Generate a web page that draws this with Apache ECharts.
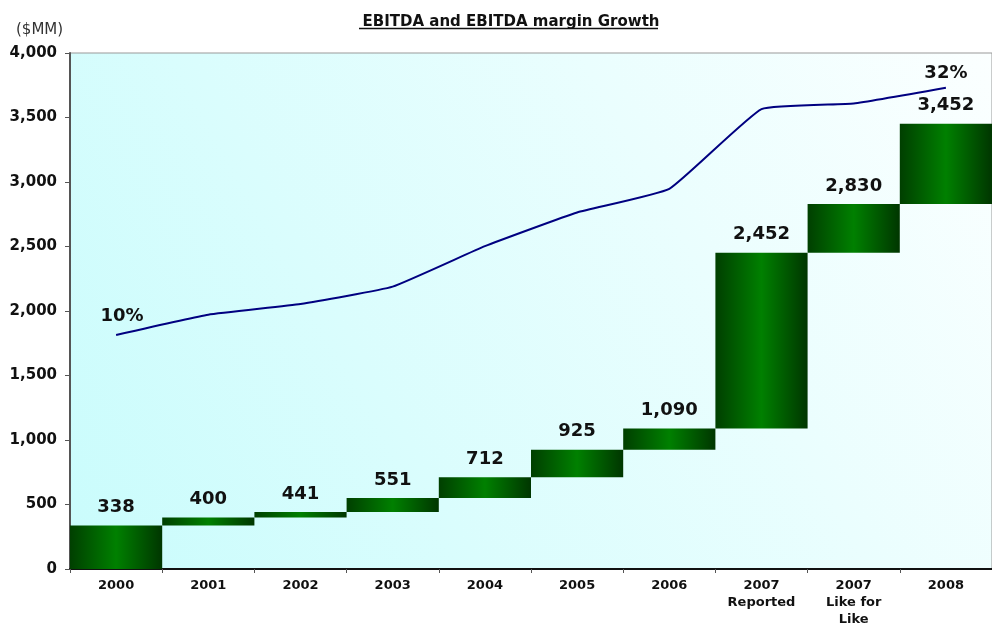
<!DOCTYPE html>
<html>
<head>
<meta charset="utf-8">
<script src="https://cdn.jsdelivr.net/npm/echarts@6/dist/echarts.min.js"></script>
<style>html,body{margin:0;padding:0;background:#fff;}#c{width:992px;height:625px;}</style>
</head>
<body>
<div id="c"></div>
<script>
var categories = ['2000', '2001', '2002', '2003', '2004', '2005', '2006', '2007\nReported', '2007\nLike for\nLike', '2008'];
var ebitda = [338, 400, 441, 551, 712, 925, 1090, 2452, 2830, 3452];
var margin = [10, 11.8, 12.75, 14.3, 17.9, 20.9, 23.0, 30.1, 30.6, 32];
var yTicks = [0, 500, 1000, 1500, 2000, 2500, 3000, 3500, 4000];

var base = ebitda.map(function (v, i) { return i === 0 ? 0 : ebitda[i - 1]; });
var delta = ebitda.map(function (v, i) { return v - base[i]; });

var barGrad = new echarts.graphic.LinearGradient(0, 0, 1, 0, [
  { offset: 0, color: '#003f00' },
  { offset: 0.5, color: '#008000' },
  { offset: 1, color: '#003600' }
]);
var FONT = '"DejaVu Sans", Verdana, sans-serif';

var chart = echarts.init(document.getElementById('c'));
chart.setOption({
  animation: false,
  title: {
    text: 'EBITDA and EBITDA margin Growth',
    left: 506, top: 10, textAlign: 'center',
    textStyle: { fontFamily: FONT, fontSize: 15, fontWeight: 'bold', color: '#111' }
  },
  graphic: [
    { type: 'text', left: 16, top: 23, style: { text: '($MM)', fontFamily: FONT, fontSize: 15, fill: '#333' } },
    { type: 'line', shape: { x1: 359, y1: 28.5, x2: 658, y2: 28.5 }, style: { stroke: '#111', lineWidth: 1.5 } }
  ],
  grid: {
    left: 70, right: 0, top: 53, bottom: 56, show: true, outerBoundsMode: 'none', containLabel: false,
    borderColor: '#999', borderWidth: 1,
    backgroundColor: new echarts.graphic.LinearGradient(0, 1, 1, 0, [
      { offset: 0, color: '#c9fcfc' },
      { offset: 1, color: '#fbffff' }
    ])
  },
  xAxis: {
    type: 'category', data: categories,
    axisLine: { lineStyle: { color: '#111', width: 2 } },
    axisTick: { show: true, length: 4, lineStyle: { color: '#555' } },
    axisLabel: { fontFamily: FONT, fontSize: 13, fontWeight: 'bold', color: '#111', margin: 8, lineHeight: 17, interval: 0 }
  },
  yAxis: [{
    type: 'value', min: 0, max: 4000, interval: 500,
    axisLine: { show: true, lineStyle: { color: '#555', width: 2 } },
    axisTick: { show: true, length: 5, lineStyle: { color: '#555' } },
    splitLine: { show: false },
    axisLabel: {
      fontFamily: FONT, fontSize: 15, fontWeight: 'bold', color: '#111', margin: 13,
      formatter: function (v) { return yTicks.indexOf(v) >= 0 ? v.toLocaleString('en-US') : ''; }
    }
  }, {
    type: 'value', min: -10.84, max: 35.1, show: false, splitLine: { show: false }
  }],
  series: [{
    type: 'bar', stack: 'w', data: base, barCategoryGap: '0%',
    itemStyle: { color: 'transparent' }, silent: true
  }, {
    type: 'bar', stack: 'w', data: delta, barCategoryGap: '0%',
    itemStyle: { color: barGrad },
    label: {
      show: true, position: 'top', distance: 9,
      fontFamily: FONT, fontSize: 18, fontWeight: 'bold', color: '#111',
      formatter: function (p) { return ebitda[p.dataIndex].toLocaleString('en-US'); }
    }
  }, {
    type: 'line', yAxisIndex: 1, smooth: 0.12, symbol: 'circle', symbolSize: 1, showSymbol: true,
    itemStyle: { color: 'rgba(0,0,0,0)' },
    lineStyle: { color: '#000080', width: 2 },
    data: margin.map(function (v, i) {
      var show = i === 0 || i === margin.length - 1;
      return { value: v, label: { show: show, position: 'top', offset: i === 0 ? [6, -4] : [0, 0],
        fontFamily: FONT, fontSize: 18, fontWeight: 'bold', color: '#111',
        formatter: Math.round(v) + '%' } };
    })
  }]
});
</script>
</body>
</html>
